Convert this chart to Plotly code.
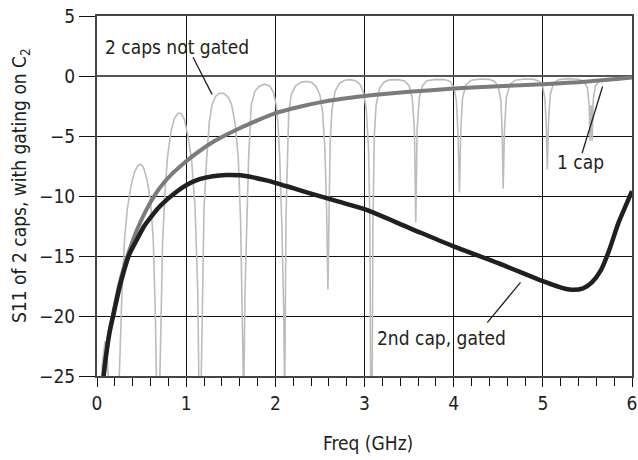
import plotly.graph_objects as go

# ---- data ----
# Light gray: 2 caps, not gated
f_not_gated = [0.03, 0.06, 0.09, 0.115, 0.14,
               0.22, 0.25, 0.28, 0.31, 0.34, 0.38, 0.42, 0.46, 0.49, 0.52, 0.56, 0.60, 0.63, 0.655, 0.67,
               0.70, 0.715, 0.735, 0.76, 0.79, 0.83, 0.87, 0.91, 0.94, 0.98, 1.02, 1.06, 1.10, 1.13, 1.145,
               1.165, 1.18, 1.20, 1.23, 1.26, 1.29, 1.33, 1.37, 1.42, 1.47, 1.51, 1.55, 1.585, 1.61, 1.625, 1.635,
               1.645, 1.66, 1.68, 1.70, 1.73, 1.77, 1.82, 1.88, 1.94, 1.98, 2.01, 2.03, 2.05, 2.075, 2.095, 2.105,
               2.12, 2.135, 2.15, 2.18, 2.23, 2.29, 2.35, 2.41, 2.46, 2.50, 2.53, 2.555, 2.575, 2.59,
               2.60, 2.615, 2.635, 2.67, 2.72, 2.78, 2.84, 2.90, 2.95, 2.99, 3.02, 3.045, 3.06, 3.07,
               3.085, 3.095, 3.11, 3.13, 3.17, 3.22, 3.28, 3.38, 3.45, 3.50, 3.535, 3.56, 3.575,
               3.59, 3.615, 3.65, 3.70, 3.80, 3.90, 3.96, 4.00, 4.03, 4.05, 4.065,
               4.08, 4.10, 4.14, 4.20, 4.30, 4.40, 4.46, 4.50, 4.53, 4.545, 4.555,
               4.57, 4.59, 4.63, 4.69, 4.80, 4.90, 4.96, 5.00, 5.025, 5.04, 5.05,
               5.065, 5.085, 5.12, 5.18, 5.30, 5.40, 5.46, 5.50, 5.52, 5.53,
               5.54, 5.545, 5.553, 5.565, 5.59, 5.64, 5.75, 5.90, 6.00]
db_not_gated = [-27, -24, -22.1, -23.5, -27,
                -30, -25, -18, -13.5, -11.1, -9.2, -8.0, -7.45, -7.35, -7.6, -8.6, -10.4, -13.5, -20, -27,
                -27, -20, -14, -10, -6.8, -4.6, -3.5, -3.1, -3.1, -3.6, -5.0, -6.9, -11, -18, -27,
                -27, -18, -11, -6.9, -3.8, -2.4, -1.7, -1.45, -1.45, -1.75, -2.4, -4.0, -6.9, -12, -18, -27,
                -27, -18, -11, -6.9, -2.4, -1.3, -0.85, -0.68, -0.85, -1.4, -2.4, -4.0, -6.9, -13, -20, -27,
                -11.7, -6, -3, -1.5, -0.8, -0.5, -0.45, -0.55, -0.9, -1.6, -3, -6, -11, -17.8,
                -11, -5.5, -2.8, -1.3, -0.6, -0.35, -0.3, -0.4, -0.7, -1.4, -2.8, -6, -12, -27,
                -27, -12, -5, -2.4, -1.0, -0.5, -0.32, -0.3, -0.42, -0.8, -1.8, -4.5, -12.2,
                -4.5, -1.8, -0.8, -0.4, -0.28, -0.3, -0.45, -0.9, -2.0, -5, -9.7,
                -4.5, -1.8, -0.7, -0.35, -0.25, -0.28, -0.45, -0.9, -2, -5, -9.4,
                -4.5, -1.8, -0.7, -0.35, -0.25, -0.28, -0.45, -0.9, -2, -4.5, -7.8,
                -3.5, -1.5, -0.6, -0.3, -0.22, -0.27, -0.45, -1.0, -2.5, -5.4,
                -2.5, -2.5, -5.4, -2.0, -0.8, -0.4, -0.3, -0.2, -0.15]

# Mid gray: 1 cap
f_one_cap = [0.07, 0.10, 0.14, 0.19, 0.25, 0.30, 0.36, 0.45, 0.55, 0.65, 0.75, 0.85, 1.0, 1.15, 1.3, 1.45,
             1.6, 1.8, 2.0, 2.25, 2.5, 2.75, 3.0, 3.25, 3.5, 3.75, 4.0, 4.5, 5.0, 5.5, 6.0]
db_one_cap = [-25.5, -23.3, -21.3, -19.5, -17.4, -16.0, -14.6, -12.8, -11.2, -9.9, -8.9, -8.1, -7.1, -6.25, -5.5, -4.9,
              -4.35, -3.7, -3.1, -2.6, -2.2, -1.9, -1.67, -1.48, -1.32, -1.18, -1.05, -0.85, -0.68, -0.45, -0.12]

# Black: 2nd cap, gated
f_gated = [0.05, 0.075, 0.10, 0.14, 0.19, 0.25, 0.30, 0.36, 0.45, 0.53, 0.60, 0.70, 0.80, 0.90, 1.0, 1.15,
           1.3, 1.45, 1.6, 1.75, 1.9, 2.0, 2.2, 2.4, 2.7, 3.0, 3.5, 4.0, 4.5, 5.0, 5.15, 5.3, 5.45, 5.55,
           5.65, 5.74, 5.85, 5.93, 6.0]
db_gated = [-28, -25, -23.4, -21.4, -19.7, -17.7, -16.3, -14.9, -13.6, -12.5, -11.8, -10.9, -10.2, -9.6, -9.1, -8.6,
            -8.35, -8.25, -8.28, -8.45, -8.7, -8.9, -9.35, -9.8, -10.45, -11.1, -12.65, -14.2, -15.6, -17.1, -17.5, -17.8, -17.7, -17.2,
            -16.2, -14.6, -12.2, -10.8, -9.6]

x_ticks = [0, 1, 2, 3, 4, 5, 6]
y_ticks = [-25, -20, -15, -10, -5, 0, 5]

FONT = "Liberation Sans Narrow, DejaVu Sans Condensed, Roboto, sans-serif"
INK = "#231f20"

fig = go.Figure()
fig.add_trace(go.Scatter(x=f_not_gated, y=db_not_gated, mode="lines",
                         line=dict(color="#bcbcbc", width=1.6), hoverinfo="skip"))
fig.add_trace(go.Scatter(x=f_one_cap, y=db_one_cap, mode="lines", line_shape="spline",
                         line=dict(color="#7b7b7b", width=4, smoothing=0.8), hoverinfo="skip"))
fig.add_trace(go.Scatter(x=f_gated, y=db_gated, mode="lines", line_shape="spline",
                         line=dict(color=INK, width=4.5, smoothing=0.8), hoverinfo="skip"))

# leader lines
leaders = [((1.077, 1.56), (1.29, -1.53)),
           ((5.44, -6.44), (5.67, -0.88)),
           ((4.377, -20.55), (4.75, -17.2))]
for (x0, y0), (x1, y1) in leaders:
    fig.add_shape(type="line", x0=x0, y0=y0, x1=x1, y1=y1, xref="x", yref="y",
                  line=dict(color=INK, width=1.3))

labels = [("2 caps not gated", 0.90, 2.39), ("1 cap", 5.42, -7.2), ("2nd cap, gated", 3.86, -21.8)]
for txt, x, y in labels:
    fig.add_annotation(x=x, y=y, text=txt, showarrow=False, xref="x", yref="y",
                       font=dict(family=FONT, size=19, color=INK))

# axis titles
fig.add_annotation(x=0.507, y=0, xref="paper", yref="paper", yanchor="middle", yshift=-67,
                   text="Freq (GHz)", showarrow=False, font=dict(family=FONT, size=19, color=INK))
fig.add_annotation(x=0, y=0.528, xref="paper", yref="paper", xanchor="center", xshift=-76,
                   text="S11 of 2 caps, with gating on C<sub>2</sub>", textangle=-90, showarrow=False,
                   font=dict(family=FONT, size=19, color=INK))

fig.update_layout(
    width=638, height=460,
    margin=dict(l=97, r=6, t=16, b=84, autoexpand=False),
    paper_bgcolor="white", plot_bgcolor="white",
    showlegend=False,
    font=dict(family=FONT, size=19, color=INK),
)
fig.update_xaxes(range=[0, 6], tickvals=x_ticks, ticktext=[str(v) for v in x_ticks],
                 showgrid=True, gridcolor="#111111", gridwidth=1.2,
                 ticks="outside", ticklen=9, tickcolor="#111111", tickwidth=1.2,
                 minor=dict(dtick=0.2, ticks="outside", ticklen=8, tickcolor="#111111", tickwidth=1.2, showgrid=False),
                 showline=True, mirror=True, linecolor="#444444", linewidth=2,
                 zeroline=False, fixedrange=True, automargin=False)
fig.update_yaxes(range=[-25, 5], tickvals=y_ticks,
                 ticktext=["\u221225", "\u221220", "\u221215", "\u221210", "\u22125", "0", "5"],
                 showgrid=True, gridcolor="#111111", gridwidth=1.2,
                 ticks="outside", ticklen=16, tickcolor="#111111", tickwidth=1.2,
                 showline=True, mirror=True, linecolor="#444444", linewidth=2,
                 zeroline=True, zerolinecolor="#555555", zerolinewidth=2, fixedrange=True, automargin=False)

fig.write_html("out.html", config={"displayModeBar": False},
               post_script="document.body.style.margin='0';document.body.style.overflow='hidden';")
